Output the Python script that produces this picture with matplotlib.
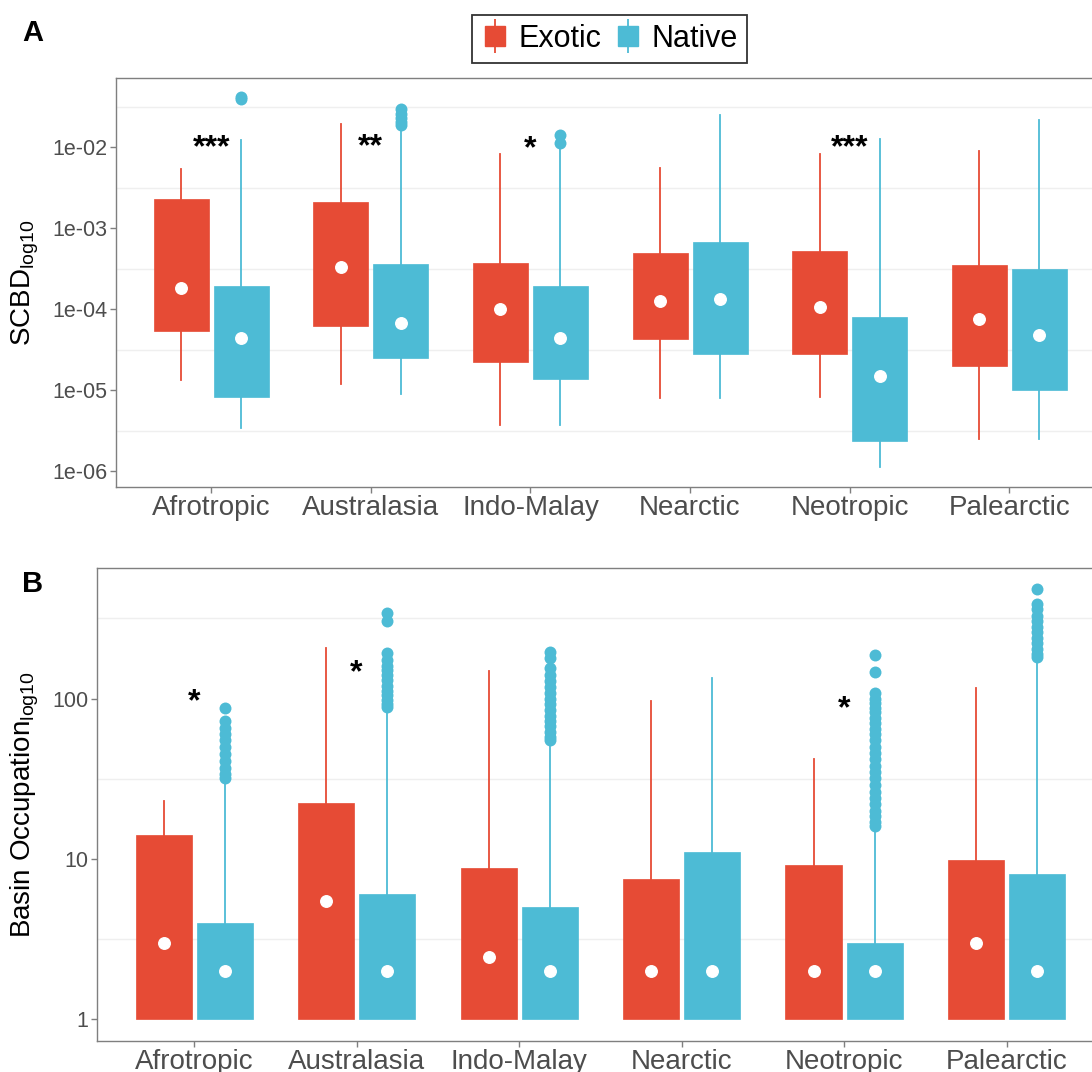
import matplotlib
matplotlib.use("Agg")
import matplotlib.pyplot as plt
from matplotlib.lines import Line2D
from matplotlib.legend_handler import HandlerTuple
import numpy as np

plt.rcParams['font.family'] = ['Liberation Sans', 'DejaVu Sans']
plt.rcParams['mathtext.default'] = 'regular'

# ---------------- data ----------------
regions = ["Afrotropic", "Australasia", "Indo-Malay", "Nearctic", "Neotropic", "Palearctic"]
groups = ["Exotic", "Native"]
colors = {"Exotic": "#E64B35", "Native": "#4DBBD5"}

# Panel A : SCBD
scbd_exotic_whislo = [1.35e-5, 1.2e-5, 3.8e-6, 8.1e-6, 8.3e-6, 2.5e-6]
scbd_exotic_q1 = [5.4e-5, 6.3e-5, 2.24e-5, 4.3e-5, 2.8e-5, 2.0e-5]
scbd_exotic_med = [1.86e-4, 3.3e-4, 1.0e-4, 1.29e-4, 1.07e-4, 7.7e-5]
scbd_exotic_q3 = [2.3e-3, 2.1e-3, 3.8e-4, 5.0e-4, 5.2e-4, 3.5e-4]
scbd_exotic_whishi = [5.5e-3, 1.95e-2, 8.2e-3, 5.6e-3, 8.3e-3, 9.0e-3]
scbd_exotic_fliers = [[], [], [], [], [], []]

scbd_native_whislo = [3.45e-6, 9.1e-6, 3.8e-6, 8.1e-6, 1.15e-6, 2.5e-6]
scbd_native_q1 = [8.3e-6, 2.55e-5, 1.4e-5, 2.8e-5, 2.4e-6, 1.0e-5]
scbd_native_med = [4.4e-5, 6.9e-5, 4.4e-5, 1.35e-4, 1.5e-5, 4.9e-5]
scbd_native_q3 = [1.95e-4, 3.6e-4, 1.95e-4, 6.9e-4, 8.1e-5, 3.2e-4]
scbd_native_whishi = [1.22e-2, 1.7e-2, 1.05e-2, 2.5e-2, 1.28e-2, 2.2e-2]
scbd_native_fliers = [[4.0e-2, 4.2e-2],
                      [2.95e-2, 2.6e-2, 2.3e-2, 2.05e-2, 1.9e-2],
                      [1.43e-2, 1.12e-2],
                      [], [], []]

scbd_ticks = [1e-6, 1e-5, 1e-4, 1e-3, 1e-2]
scbd_ticklabels = ["1e-06", "1e-05", "1e-04", "1e-03", "1e-02"]
scbd_minor = [10**-5.5, 10**-4.5, 10**-3.5, 10**-2.5, 10**-1.5]
scbd_stars = ["***", "**", "*", "", "***", ""]
scbd_star_y = [1.3e-2, 1.35e-2, 1.28e-2, 1.3e-2, 1.3e-2, 1.3e-2]

# Panel B : Basin occupation
occ_exotic_whislo = [1, 1, 1, 1, 1, 1]
occ_exotic_q1 = [1, 1, 1, 1, 1, 1]
occ_exotic_med = [3.0, 5.5, 2.45, 2.0, 2.0, 3.0]
occ_exotic_q3 = [14.1, 22.3, 8.75, 7.5, 9.1, 9.8]
occ_exotic_whishi = [23.1, 207, 148, 96, 42, 117]
occ_exotic_fliers = [[], [], [], [], [], []]

occ_native_whislo = [1, 1, 1, 1, 1, 1]
occ_native_q1 = [1, 1, 1, 1, 1, 1]
occ_native_med = [2, 2, 2, 2, 2, 2]
occ_native_q3 = [4.0, 6.0, 5.0, 11.0, 3.0, 8.0]
occ_native_whishi = [30, 85, 54, 134, 15, 175]
occ_native_fliers = [
    [87.6, 72, 66, 60, 55, 50, 45, 41, 37, 34, 32],
    [343, 303, 192, 175, 160, 150, 140, 130, 120, 112, 105, 98, 92, 89],
    [196, 178, 155, 140, 128, 118, 108, 100, 92, 85, 78, 72, 67, 62, 58, 55],
    [],
    [187, 147, 108, 100, 94, 88, 82, 76, 70, 65, 60, 55, 50, 46, 42, 38, 35,
     32, 29, 26, 24, 22, 20, 18.5, 17, 16],
    [481, 390, 360, 330, 305, 280, 260, 240, 222, 205, 190, 183],
]

occ_ticks = [1, 10, 100]
occ_ticklabels = ["1", "10", "100"]
occ_minor = [10**0.5, 10**1.5, 10**2.5]
occ_stars = ["*", "*", "", "", "*", ""]
occ_star_y = [110, 166, 1, 1, 99, 1]

# ---------------- drawing ----------------
W, H = 1092, 1072
fig = plt.figure(figsize=(W / 100, H / 100), dpi=100)

axA = fig.add_axes([115.5 / W, 1 - 486.7 / H, (1105 - 115.5) / W, (486.7 - 78.3) / H])
axB = fig.add_axes([96.7 / W, 1 - 1040.5 / H, (1104 - 96.7) / W, (1040.5 - 568.3) / H])

BOXW = 0.345
OFF = 0.188
GRID_C = "#EFEFEF"
AX_C = "#7F7F7F"
TXT_C = "#4D4D4D"


def make_stats(whislo, q1, med, q3, whishi, fliers):
    out = []
    for i in range(len(med)):
        out.append(dict(whislo=whislo[i], q1=q1[i], med=med[i], mean=med[i],
                        q3=q3[i], whishi=whishi[i], fliers=np.array(fliers[i], float)))
    return out


def draw_panel(ax, data, ticks, ticklabels, minor, ylim, ylabel, stars, star_y):
    x = np.arange(1, len(regions) + 1)
    for gi, g in enumerate(groups):
        c = colors[g]
        stats = make_stats(*data[g])
        pos = x + (-OFF if gi == 0 else OFF)
        ax.bxp(stats, positions=pos, widths=BOXW, patch_artist=True,
               showcaps=False, showmeans=True, showfliers=True,
               boxprops=dict(facecolor=c, edgecolor=c, linewidth=0.5),
               whiskerprops=dict(color=c, linewidth=1.3),
               medianprops=dict(color="none", linewidth=0),
               meanprops=dict(marker="o", markerfacecolor="white",
                              markeredgecolor="white", markersize=8.3),
               flierprops=dict(marker="o", markerfacecolor=c, markeredgecolor="none",
                               markersize=8.6, linestyle="none"),
               manage_ticks=False, zorder=3)
    ax.set_yscale("log")
    ax.set_ylim(*ylim)
    ax.set_xlim(0.4, 6.6)
    ax.set_xticks(x)
    ax.set_xticklabels(regions, fontsize=20, color=TXT_C)
    ax.set_yticks(ticks)
    ax.set_yticklabels(ticklabels, fontsize=15.5, color=TXT_C)
    ax.yaxis.set_minor_locator(matplotlib.ticker.NullLocator())
    for m in minor:
        ax.axhline(m, color=GRID_C, linewidth=1.0, zorder=0)
    for s in ax.spines.values():
        s.set_color(AX_C)
        s.set_linewidth(1.0)
    ax.tick_params(axis="both", which="major", color=AX_C, length=4, width=1.0, pad=2)
    ax.set_ylabel(ylabel, fontsize=20, color="black", labelpad=8)
    for i, s in enumerate(stars):
        if s:
            ax.annotate(s, xy=(x[i], star_y[i]), xytext=(0, -0.57 * 23),
                        textcoords="offset points", ha="center", va="baseline",
                        fontsize=23, fontweight="bold", color="black", zorder=5)


dataA = {
    "Exotic": (scbd_exotic_whislo, scbd_exotic_q1, scbd_exotic_med, scbd_exotic_q3,
               scbd_exotic_whishi, scbd_exotic_fliers),
    "Native": (scbd_native_whislo, scbd_native_q1, scbd_native_med, scbd_native_q3,
               scbd_native_whishi, scbd_native_fliers),
}
dataB = {
    "Exotic": (occ_exotic_whislo, occ_exotic_q1, occ_exotic_med, occ_exotic_q3,
               occ_exotic_whishi, occ_exotic_fliers),
    "Native": (occ_native_whislo, occ_native_q1, occ_native_med, occ_native_q3,
               occ_native_whishi, occ_native_fliers),
}

draw_panel(axA, dataA, scbd_ticks, scbd_ticklabels, scbd_minor,
           (10**-6.188, 10**-1.146), r"SCBD$_{log10}$", scbd_stars, scbd_star_y)
draw_panel(axB, dataB, occ_ticks, occ_ticklabels, occ_minor,
           (10**-0.133, 10**2.813), r"Basin Occupation$_{log10}$", occ_stars, occ_star_y)

# panel letters
fig.text(22 / W, 1 - 33 / H, "A", fontsize=21, fontweight="bold", va="center", ha="left")
fig.text(22 / W, 1 - 584 / H, "B", fontsize=21, fontweight="bold", va="center", ha="left")

# legend
handles = []
for g in groups:
    c = colors[g]
    vline = Line2D([], [], color=c, marker="|", markersize=24, markeredgewidth=1.3, linestyle="none")
    sq = Line2D([], [], color=c, marker="s", markersize=15, linestyle="none")
    handles.append((vline, sq))
leg = fig.legend(handles, groups, loc="upper center", bbox_to_anchor=(609.5 / W, 1 - 15 / H),
                 ncol=2, fontsize=22, frameon=True, fancybox=False, edgecolor="black",
                 handler_map={tuple: HandlerTuple(ndivide=1)}, handlelength=0.9,
                 handletextpad=0.3, columnspacing=0.45, borderpad=0.3, borderaxespad=0)
leg.get_frame().set_linewidth(1.3)

fig.savefig("out.png", dpi=100)
